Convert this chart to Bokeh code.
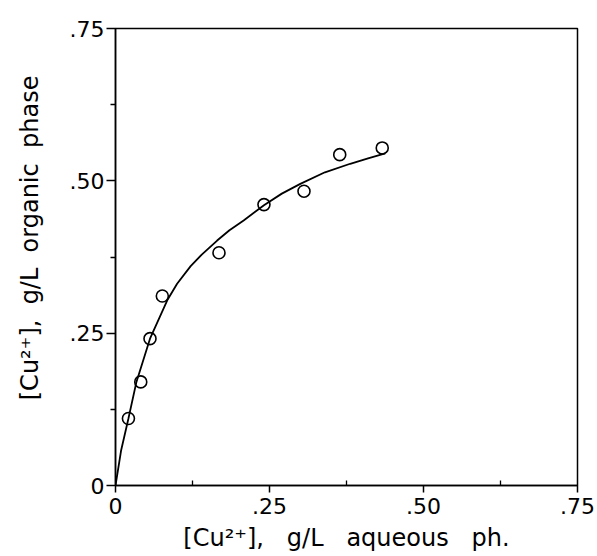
from bokeh.plotting import figure
from bokeh.models import FixedTicker, Range1d
from bokeh.embed import file_html
from bokeh.resources import INLINE

# measured data points (aqueous vs organic Cu2+, g/L)
aq_pts = [0.021, 0.041, 0.056, 0.076, 0.168, 0.241, 0.306, 0.364, 0.433]
org_pts = [0.110, 0.170, 0.241, 0.311, 0.382, 0.461, 0.483, 0.543, 0.554]

# fitted curve
aq_curve = [0.0, 0.009, 0.021, 0.034, 0.056, 0.084, 0.100, 0.122, 0.140, 0.165,
            0.185, 0.208, 0.241, 0.270, 0.300, 0.340, 0.381, 0.410, 0.438]
org_curve = [0.0, 0.057, 0.110, 0.170, 0.241, 0.304, 0.331, 0.360, 0.379, 0.402,
             0.419, 0.435, 0.460, 0.479, 0.495, 0.514, 0.528, 0.537, 0.545]

ticks = [0.0, 0.25, 0.5, 0.75]
tick_labels = {0.0: "0", 0.25: ".25", 0.5: ".50", 0.75: ".75"}
minor = [0.125, 0.375, 0.625]

NB = "\u00a0"
x_title = "[Cu²⁺]," + NB * 3 + "g/L" + NB * 3 + "aqueous" + NB * 3 + "ph."
y_title = NB * 5 + "[Cu²⁺]," + NB * 2 + "g/L" + NB * 2 + "organic" + NB * 2 + "phase"

FONT = "DejaVu Sans"

p = figure(width=596, height=555, output_backend="svg", toolbar_location=None,
           x_range=Range1d(0, 0.75), y_range=Range1d(0, 0.75),
           min_border_left=115, min_border_right=19, min_border_top=28, min_border_bottom=70)
p.background_fill_color = "white"
p.border_fill_color = "white"
p.outline_line_color = "black"
p.outline_line_width = 1.5
p.grid.visible = False

p.line(aq_curve, org_curve, line_color="black", line_width=1.8)
p.scatter(aq_pts, org_pts, marker="circle", size=12, fill_color=None,
          line_color="black", line_width=1.6)

for ax in (p.xaxis[0], p.yaxis[0]):
    ax.ticker = FixedTicker(ticks=ticks, minor_ticks=minor)
    ax.major_label_overrides = tick_labels
    ax.axis_line_color = "black"
    ax.axis_line_width = 1.5
    ax.major_tick_line_color = "black"
    ax.minor_tick_line_color = "black"
    ax.major_tick_line_width = 1.5
    ax.minor_tick_line_width = 1.3
    ax.major_label_text_font = FONT
    ax.major_label_text_font_size = "22px"
    ax.major_label_text_color = "black"
    ax.axis_label_text_font = FONT
    ax.axis_label_text_font_size = "24px"
    ax.axis_label_text_font_style = "normal"
    ax.axis_label_text_color = "black"

p.xaxis.major_tick_out = 7
p.xaxis.major_tick_in = 0
p.xaxis.minor_tick_out = 0
p.xaxis.minor_tick_in = 5
p.xaxis.major_label_standoff = 5
p.xaxis.axis_label = x_title
p.xaxis.axis_label_standoff = 7

p.yaxis.major_tick_out = 9
p.yaxis.major_tick_in = 0
p.yaxis.minor_tick_out = 5
p.yaxis.minor_tick_in = 0
p.yaxis.major_label_standoff = 2
p.yaxis.axis_label = y_title
p.yaxis.axis_label_standoff = 23

open("out.html", "w").write(file_html(p, INLINE))
